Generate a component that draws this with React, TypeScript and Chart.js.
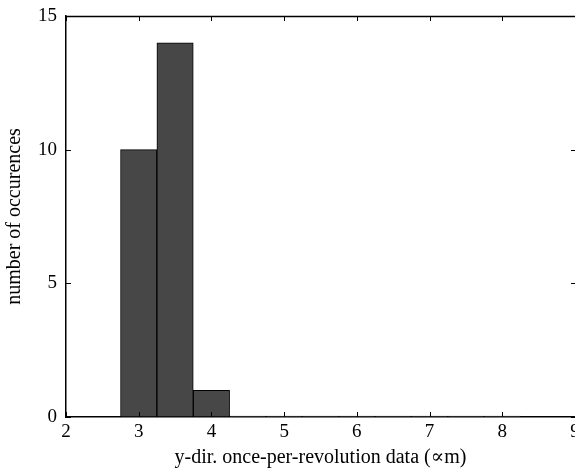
import React, { useEffect, useRef } from "react";
import { Chart, registerables } from "chart.js";

Chart.register(...registerables);

const binCenters = [3, 3.5, 4, 4.5, 5, 5.5, 6, 6.5, 7, 7.5, 8];
const counts = [10, 14, 1, 0, 0, 0, 0, 0, 0, 0, 0];
const xTicks = [2, 3, 4, 5, 6, 7, 8, 9];
const yTicks = [0, 5, 10, 15];
const xTitle = "y-dir. once-per-revolution data (\u221Dm)";
const yTitle = "number of occurences";

const FONT = "'Liberation Serif', 'DejaVu Serif', serif";

const framePlugin = {
  id: "frame",
  afterDraw(chart: any) {
    const { ctx, chartArea } = chart;
    const xs = chart.scales.x;
    const ys = chart.scales.y;
    const { left, right, top, bottom } = chartArea;
    ctx.save();
    ctx.strokeStyle = "#000";
    ctx.lineWidth = 1.5;
    ctx.beginPath();
    ctx.moveTo(left, top + 0.5);
    ctx.lineTo(right + 2, top + 0.5);
    ctx.stroke();
    ctx.lineWidth = 1;
    const tl = 5;
    ctx.beginPath();
    for (const v of xTicks) {
      const px = Math.round(xs.getPixelForValue(v)) + 0.5;
      ctx.moveTo(px, bottom);
      ctx.lineTo(px, bottom - tl);
      ctx.moveTo(px, top);
      ctx.lineTo(px, top + tl);
    }
    for (const v of yTicks) {
      const py = Math.round(ys.getPixelForValue(v)) + 0.5;
      ctx.moveTo(left, py);
      ctx.lineTo(left + tl, py);
      ctx.moveTo(right + 1, py);
      ctx.lineTo(right + 1 - tl, py);
    }
    ctx.stroke();
    ctx.restore();
  },
};

export default function App() {
  const ref = useRef<HTMLCanvasElement | null>(null);
  useEffect(() => {
    if (!ref.current) return;
    const chart = new Chart(ref.current, {
      type: "bar",
      data: {
        datasets: [
          {
            data: binCenters.map((x, i) => ({ x, y: counts[i] })),
            backgroundColor: "#474747",
            borderColor: "#000",
            borderWidth: 1,
            borderSkipped: false,
            minBarLength: 1,
            barPercentage: 1,
            categoryPercentage: 1,
          } as any,
        ],
      },
      options: {
        animation: false,
        responsive: false,
        maintainAspectRatio: false,
        layout: { padding: { top: 16, left: 0, right: 0, bottom: 0 } },
        plugins: { legend: { display: false }, tooltip: { enabled: false } },
        scales: {
          x: {
            type: "linear",
            offset: false,
            min: 2,
            max: 9,
            grid: { display: false, drawTicks: false, offset: false },
            border: { display: true, color: "#000", width: 1.5 },
            ticks: {
              stepSize: 1,
              padding: 4,
              color: "#000",
              font: { family: FONT, size: 19 },
              maxRotation: 0,
            },
            title: {
              display: true,
              text: xTitle,
              color: "#000",
              font: { family: FONT, size: 20 },
              padding: { top: 0, bottom: 1 },
            },
            afterFit(scale: any) {
              scale.height = 54;
              scale.paddingLeft = 0;
              scale.paddingRight = 0;
            },
          } as any,
          y: {
            min: 0,
            max: 15,
            grid: { display: false, drawTicks: false },
            border: { display: true, color: "#000", width: 1.5 },
            ticks: {
              stepSize: 5,
              padding: 9,
              color: "#000",
              font: { family: FONT, size: 19 },
            },
            title: {
              display: true,
              text: yTitle,
              color: "#000",
              font: { family: FONT, size: 20 },
              padding: { top: 3, bottom: 0 },
            },
            afterFit(scale: any) {
              scale.width = 66;
              scale.paddingTop = 0;
              scale.paddingBottom = 0;
            },
          } as any,
        },
      },
      plugins: [framePlugin],
    });
    return () => chart.destroy();
  }, []);
  return (
    <div style={{ position: "absolute", left: 0, top: 0, width: 575, height: 471, background: "#fff" }}>
      <canvas ref={ref} width={575} height={471} style={{ display: "block" }} />
    </div>
  );
}
